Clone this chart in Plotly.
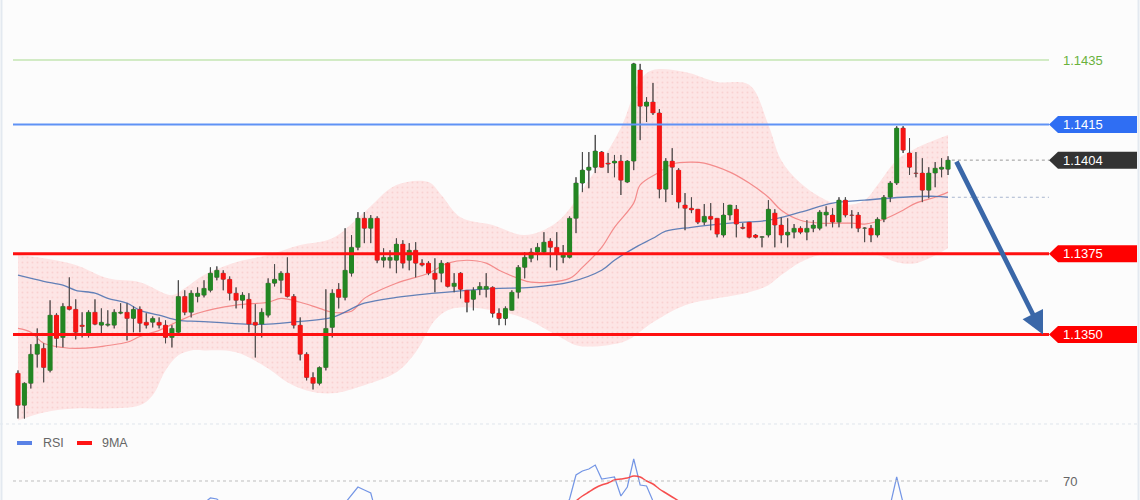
import plotly.graph_objects as go

# ---------------- data ----------------
open_ = [
    1.13380, 1.13281, 1.13349, 1.13439, 1.13457, 1.13389, 1.13560, 1.13491, 1.13587, 1.13578,
    1.13529, 1.13504, 1.13569, 1.13529, 1.13529, 1.13529, 1.13566, 1.13569, 1.13550, 1.13578,
    1.13538, 1.13538, 1.13538, 1.13529, 1.13491, 1.13507, 1.13618, 1.13569, 1.13618, 1.13622,
    1.13637, 1.13677, 1.13690, 1.13671, 1.13628, 1.13606, 1.13609, 1.13538, 1.13532, 1.13560,
    1.13659, 1.13668, 1.13690, 1.13618, 1.13529, 1.13439, 1.13367, 1.13349, 1.13398, 1.13522,
    1.13640, 1.13615, 1.13690, 1.13770, 1.13860, 1.13829, 1.13860, 1.13730, 1.13730, 1.13730,
    1.13780, 1.13730, 1.13761, 1.13721, 1.13721, 1.13690, 1.13690, 1.13721, 1.13649, 1.13690,
    1.13637, 1.13609, 1.13640, 1.13640, 1.13646, 1.13566, 1.13550, 1.13575, 1.13631, 1.13708,
    1.13736, 1.13755, 1.13755, 1.13789, 1.13770, 1.13739, 1.13739, 1.13860, 1.13969, 1.14009,
    1.14018, 1.14065, 1.14031, 1.14031, 1.14037, 1.13972, 1.14037, 1.14319, 1.14207, 1.14220,
    1.14186, 1.13950, 1.14037, 1.14009, 1.13901, 1.13891, 1.13888, 1.13848, 1.13866, 1.13860,
    1.13808, 1.13870, 1.13888, 1.13832, 1.13848, 1.13808, 1.13801, 1.13808, 1.13876, 1.13839,
    1.13808, 1.13817, 1.13829, 1.13817, 1.13829, 1.13829, 1.13870, 1.13870, 1.13848, 1.13916,
    1.13870, 1.13870, 1.13829, 1.13829, 1.13808, 1.13857, 1.13925, 1.13969, 1.14139, 1.14062,
    1.14000, 1.14000, 1.13947, 1.14000, 1.14012, 1.14012]

high = [
    1.13389, 1.13352, 1.13470, 1.13519, 1.13473, 1.13606, 1.13566, 1.13597, 1.13677, 1.13609,
    1.13569, 1.13575, 1.13609, 1.13581, 1.13575, 1.13578, 1.13597, 1.13597, 1.13587, 1.13587,
    1.13566, 1.13556, 1.13553, 1.13544, 1.13529, 1.13668, 1.13637, 1.13637, 1.13646, 1.13668,
    1.13708, 1.13711, 1.13699, 1.13680, 1.13646, 1.13631, 1.13628, 1.13594, 1.13581, 1.13674,
    1.13718, 1.13696, 1.13739, 1.13625, 1.13553, 1.13445, 1.13383, 1.13401, 1.13640, 1.13640,
    1.13659, 1.13829, 1.13808, 1.13879, 1.13879, 1.13870, 1.13866, 1.13767, 1.13761, 1.13798,
    1.13792, 1.13783, 1.13786, 1.13733, 1.13727, 1.13736, 1.13730, 1.13724, 1.13690, 1.13693,
    1.13637, 1.13646, 1.13662, 1.13690, 1.13649, 1.13581, 1.13587, 1.13637, 1.13715, 1.13755,
    1.13767, 1.13783, 1.13817, 1.13798, 1.13817, 1.13777, 1.13866, 1.13987, 1.14065, 1.14065,
    1.14118, 1.14068, 1.14062, 1.14056, 1.14056, 1.14040, 1.14341, 1.14338, 1.14235, 1.14279,
    1.14198, 1.14046, 1.14077, 1.14015, 1.13938, 1.13925, 1.13888, 1.13904, 1.13907, 1.13860,
    1.13907, 1.13901, 1.13901, 1.13845, 1.13848, 1.13811, 1.13804, 1.13916, 1.13888, 1.13863,
    1.13860, 1.13842, 1.13835, 1.13854, 1.13854, 1.13885, 1.13897, 1.13891, 1.13925, 1.13925,
    1.13885, 1.13879, 1.13832, 1.13839, 1.13863, 1.13932, 1.13975, 1.14145, 1.14145, 1.14108,
    1.14065, 1.14046, 1.14018, 1.14034, 1.14046, 1.14052]

low = [
    1.13240, 1.13240, 1.13333, 1.13398, 1.13352, 1.13383, 1.13460, 1.13460, 1.13575, 1.13485,
    1.13491, 1.13491, 1.13529, 1.13504, 1.13525, 1.13519, 1.13563, 1.13482, 1.13507, 1.13507,
    1.13519, 1.13522, 1.13519, 1.13473, 1.13460, 1.13504, 1.13560, 1.13553, 1.13600, 1.13615,
    1.13631, 1.13668, 1.13637, 1.13606, 1.13581, 1.13581, 1.13507, 1.13429, 1.13491, 1.13553,
    1.13649, 1.13628, 1.13615, 1.13519, 1.13420, 1.13358, 1.13330, 1.13343, 1.13389, 1.13491,
    1.13581, 1.13606, 1.13680, 1.13761, 1.13783, 1.13783, 1.13721, 1.13708, 1.13705, 1.13690,
    1.13705, 1.13699, 1.13677, 1.13711, 1.13684, 1.13631, 1.13662, 1.13646, 1.13631, 1.13612,
    1.13569, 1.13575, 1.13622, 1.13615, 1.13553, 1.13529, 1.13529, 1.13575, 1.13612, 1.13674,
    1.13724, 1.13730, 1.13752, 1.13708, 1.13699, 1.13721, 1.13736, 1.13814, 1.13941, 1.13953,
    1.14000, 1.14018, 1.14000, 1.13987, 1.13932, 1.13969, 1.14009, 1.14102, 1.14158, 1.14180,
    1.13922, 1.13910, 1.13932, 1.13891, 1.13823, 1.13876, 1.13842, 1.13839, 1.13823, 1.13801,
    1.13801, 1.13854, 1.13801, 1.13826, 1.13798, 1.13798, 1.13770, 1.13801, 1.13770, 1.13783,
    1.13770, 1.13798, 1.13811, 1.13792, 1.13817, 1.13823, 1.13835, 1.13832, 1.13832, 1.13863,
    1.13829, 1.13817, 1.13786, 1.13786, 1.13801, 1.13848, 1.13910, 1.13963, 1.14062, 1.13994,
    1.13987, 1.13910, 1.13922, 1.13956, 1.13987, 1.13994]

close = [
    1.13281, 1.13349, 1.13439, 1.13470, 1.13398, 1.13560, 1.13488, 1.13587, 1.13578, 1.13507,
    1.13525, 1.13569, 1.13532, 1.13538, 1.13532, 1.13569, 1.13569, 1.13550, 1.13578, 1.13535,
    1.13529, 1.13550, 1.13529, 1.13491, 1.13519, 1.13618, 1.13569, 1.13628, 1.13628, 1.13643,
    1.13690, 1.13699, 1.13671, 1.13628, 1.13606, 1.13622, 1.13532, 1.13529, 1.13569, 1.13659,
    1.13671, 1.13690, 1.13618, 1.13529, 1.13439, 1.13367, 1.13349, 1.13398, 1.13519, 1.13628,
    1.13615, 1.13699, 1.13770, 1.13860, 1.13829, 1.13860, 1.13730, 1.13739, 1.13739, 1.13780,
    1.13721, 1.13761, 1.13721, 1.13715, 1.13690, 1.13671, 1.13721, 1.13649, 1.13659, 1.13640,
    1.13600, 1.13637, 1.13649, 1.13649, 1.13566, 1.13550, 1.13581, 1.13631, 1.13708, 1.13739,
    1.13755, 1.13770, 1.13786, 1.13770, 1.13752, 1.13746, 1.13860, 1.13969, 1.14009, 1.14018,
    1.14068, 1.14018, 1.14028, 1.14037, 1.13978, 1.14037, 1.14338, 1.14207, 1.14220, 1.14186,
    1.13950, 1.14037, 1.14018, 1.13910, 1.13891, 1.13886, 1.13848, 1.13866, 1.13857, 1.13811,
    1.13870, 1.13901, 1.13842, 1.13829, 1.13801, 1.13801, 1.13803, 1.13888, 1.13839, 1.13808,
    1.13817, 1.13829, 1.13817, 1.13829, 1.13839, 1.13879, 1.13879, 1.13848, 1.13916, 1.13870,
    1.13869, 1.13829, 1.13830, 1.13808, 1.13857, 1.13925, 1.13969, 1.14139, 1.14071, 1.14018,
    1.13999, 1.13947, 1.14000, 1.14015, 1.14018, 1.14040]

# Bollinger envelope, middle (red) and long (blue) moving averages, read at sample candles
upper_idx = [1, 5, 10, 15, 20, 25, 27, 30, 35, 40, 45, 50, 55, 60, 65, 67, 70, 75, 80, 85,
             90, 95, 98, 100, 105, 110, 115, 118, 120, 123, 127, 130, 133, 135, 138, 141, 146]
upper_val = [1.13746, 1.13736, 1.13715, 1.13674, 1.13662, 1.13622, 1.13643, 1.13684, 1.13724, 1.13746,
             1.13777, 1.13798, 1.13879, 1.13963, 1.13972, 1.13932, 1.13863, 1.13839, 1.13808, 1.13848,
             1.13978, 1.14140, 1.14288, 1.14319, 1.14313, 1.14282, 1.14273, 1.14149, 1.14040, 1.13969,
             1.13916, 1.13901, 1.13916, 1.13963, 1.14040, 1.14077, 1.14118]
lower_idx = [1, 5, 10, 15, 20, 22, 24, 26, 28, 30, 35, 40, 43, 46, 50, 55, 60, 63, 66, 68,
             70, 75, 80, 85, 88, 90, 93, 96, 100, 105, 110, 115, 118, 120, 123, 126, 130, 135, 138, 141, 146]
lower_val = [1.13234, 1.13259, 1.13271, 1.13271, 1.13281, 1.13312, 1.13389, 1.13436, 1.13451, 1.13451,
             1.13445, 1.13395, 1.13352, 1.13327, 1.13318, 1.13343, 1.13383, 1.13445, 1.13544, 1.13575,
             1.13584, 1.13575, 1.13550, 1.13498, 1.13467, 1.13463, 1.13467, 1.13482, 1.13538, 1.13591,
             1.13612, 1.13631, 1.13653, 1.13684, 1.13724, 1.13746, 1.13755, 1.13746, 1.13724, 1.13721,
             1.13767]
red_idx = [1, 3, 5, 8, 10, 13, 15, 18, 20, 23, 26, 29, 35, 40, 42, 45, 48, 50, 53, 55,
           60, 65, 68, 71, 74, 76, 79, 81, 87, 89, 92, 94, 97, 98, 101, 103, 106, 108, 112, 115,
           118, 120, 123, 126, 131, 133, 136, 139, 141, 144, 146]
red_val = [1.13519, 1.13507, 1.13473, 1.13460, 1.13457, 1.13460, 1.13466, 1.13476, 1.13494, 1.13513,
           1.13541, 1.13566, 1.13591, 1.13600, 1.13612, 1.13600, 1.13581, 1.13569, 1.13572, 1.13612,
           1.13659, 1.13690, 1.13721, 1.13730, 1.13721, 1.13699, 1.13674, 1.13662, 1.13674, 1.13708,
           1.13770, 1.13832, 1.13907, 1.13963, 1.14003, 1.14028, 1.14034, 1.14031, 1.14003, 1.13969,
           1.13925, 1.13885, 1.13854, 1.13845, 1.13845, 1.13842, 1.13857, 1.13885, 1.13907, 1.13925,
           1.13941]
blue_idx = [1, 5, 8, 10, 13, 15, 18, 20, 23, 26, 29, 32, 37, 40, 45, 50, 55, 60, 66, 71,
            76, 81, 87, 92, 94, 97, 100, 102, 106, 112, 118, 123, 128, 133, 139, 144, 146]
blue_val = [1.13684, 1.13665, 1.13653, 1.13637, 1.13628, 1.13612, 1.13597, 1.13575, 1.13560, 1.13544,
            1.13541, 1.13538, 1.13532, 1.13532, 1.13541, 1.13553, 1.13597, 1.13615, 1.13628, 1.13637,
            1.13643, 1.13646, 1.13662, 1.13699, 1.13730, 1.13767, 1.13798, 1.13820, 1.13832, 1.13845,
            1.13854, 1.13879, 1.13907, 1.13916, 1.13925, 1.13928, 1.13925]

# RSI panel (only the top of it is visible)
rsi = [
    30, 33, 40, 45, 42, 52, 48, 55, 54, 49,
    50, 54, 51, 52, 51, 54, 54, 52, 55, 51,
    50, 52, 50, 47, 50, 58, 53, 58, 58, 59,
    61.5, 61, 58, 53, 51, 53, 46, 46, 50, 58,
    57, 58, 50, 44, 38, 34, 33, 38, 50, 57,
    55, 59, 63, 67, 65.5, 64, 52, 53, 53, 56,
    52, 55, 51, 51, 49, 48, 52, 47, 48, 46,
    44, 47, 48, 48, 42, 41, 44, 49, 54, 56,
    57, 58, 59, 57, 56, 55, 61, 73, 75, 76,
    78, 71, 71.5, 72, 62.5, 67, 81, 68, 67.5, 60,
    45, 52, 50, 44, 43, 43, 41, 44, 43, 40,
    45, 48, 43, 43, 41, 41, 41, 47, 44, 42,
    43, 44, 43, 44, 45, 49, 49, 46, 52, 47,
    47, 44, 44, 43, 48, 53, 58, 72, 59, 55,
    55, 51, 55, 56, 56, 58]
rsi_ma = [
    40, 40, 41, 42, 42, 43, 44, 45, 46, 47,
    48, 49, 50, 51, 52, 52, 52, 52, 52, 52,
    52, 52, 52, 52, 51, 51, 51, 52, 53, 54,
    55, 56, 56, 56, 56, 56, 55, 54, 53, 52,
    52, 52, 51, 50, 49, 47, 45, 44, 44, 44,
    45, 46, 48, 51, 54, 56, 57, 57, 57, 57,
    57, 56, 55, 54, 52, 51, 50, 50, 49, 48,
    48, 47, 47, 47, 46, 46, 45, 45, 46, 47,
    48, 49, 50, 51, 53, 55, 57, 60, 62.5, 64.5,
    66.5, 68, 69, 70.5, 71, 71.5, 72.5, 72, 70, 68.5,
    66, 64, 62, 60, 58, 56, 53, 50, 47, 45,
    44, 44, 44, 43, 43, 43, 43, 43, 43, 43,
    43, 43, 43, 43, 44, 44, 45, 45, 46, 46,
    47, 47, 47, 47, 47, 48, 49, 51, 52, 53,
    54, 55, 56, 56, 57, 57]

levels = [1.1435, 1.1415, 1.1375, 1.1350]
rsi_level = 70
legend_names = ["RSI", "9MA"]

# ---------------- layout constants ----------------
W, H = 1140, 500
FONT = "Liberation Sans, Arial, sans-serif"
GREEN, RED, WICK = "#238623", "#f51414", "#4a4a4a"
n = min(len(open_), len(high), len(low), len(close))
idx = list(range(1, n + 1))
rsi_x = list(range(1, min(len(rsi), len(rsi_ma)) + 1))

FIRST_PX, LAST_PX = 18, 948
STEP = (LAST_PX - FIRST_PX) / (n - 1)
X_MIN = 1 - FIRST_PX / STEP
X_MAX = X_MIN + W / STEP


def px2idx(px):
    return X_MIN + px / STEP


REF_PRICE, REF_PX, PX_PER_UNIT, MAIN_BOTTOM = 1.1435, 60, 32300, 424
Y_TOP = REF_PRICE + REF_PX / PX_PER_UNIT
Y_BOT = REF_PRICE - (MAIN_BOTTOM - REF_PX) / PX_PER_UNIT
RSI_TOP_PX, RSI_70_PX, RSI_PX_PER = 428, 481, 2.0
R_BOT = rsi_level - (H - RSI_70_PX) / RSI_PX_PER
R_TOP = rsi_level + (RSI_70_PX - RSI_TOP_PX) / RSI_PX_PER


def py(px):
    return 1 - px / H


fig = go.Figure()

# Bollinger envelope
fig.add_trace(go.Scatter(x=upper_idx, y=upper_val, mode="lines", line=dict(width=0, shape="spline"),
                         showlegend=False, hoverinfo="skip"))
fig.add_trace(go.Scatter(x=lower_idx, y=lower_val, mode="lines", line=dict(width=0, shape="spline"),
                         fill="tonexty", fillcolor="rgba(255,160,160,0.28)",
                         fillpattern=dict(shape=".", fgcolor="rgba(235,120,120,0.35)",
                                          bgcolor="rgba(255,165,165,0.27)", size=5, solidity=0.12),
                         showlegend=False, hoverinfo="skip"))
fig.add_trace(go.Scatter(x=red_idx, y=red_val, mode="lines",
                         line=dict(color="rgba(240,110,110,0.75)", width=1.2, shape="spline"),
                         showlegend=False, hoverinfo="skip"))
fig.add_trace(go.Scatter(x=blue_idx, y=blue_val, mode="lines",
                         line=dict(color="rgba(70,110,175,0.85)", width=1.3, shape="spline"),
                         showlegend=False, hoverinfo="skip"))

# candlestick (gives doji ticks underneath)
fig.add_trace(go.Candlestick(
    x=idx, open=open_[:n], high=high[:n], low=low[:n], close=close[:n],
    increasing=dict(fillcolor=GREEN, line=dict(color=WICK, width=1)),
    decreasing=dict(fillcolor=RED, line=dict(color=WICK, width=1)),
    whiskerwidth=0, showlegend=False, hoverinfo="skip"))

# wicks and solid bodies redrawn above the envelope fill
wx, wy = [], []
gx, gy, rx, ry = [], [], [], []
for i, o, h, l, c in zip(idx, open_, high, low, close):
    wx += [i, i, None]
    wy += [l, h, None]
    if c >= o:
        gx += [i, i, None]
        gy += [o, c, None]
    else:
        rx += [i, i, None]
        ry += [o, c, None]
fig.add_trace(go.Scatter(x=wx, y=wy, mode="lines", line=dict(color=WICK, width=1),
                         showlegend=False, hoverinfo="skip"))
fig.add_trace(go.Scatter(x=gx, y=gy, mode="lines", line=dict(color=GREEN, width=5),
                         showlegend=False, hoverinfo="skip"))
fig.add_trace(go.Scatter(x=rx, y=ry, mode="lines", line=dict(color=RED, width=5),
                         showlegend=False, hoverinfo="skip"))

# RSI panel
fig.add_trace(go.Scatter(x=rsi_x, y=rsi, mode="lines", yaxis="y2",
                         line=dict(color="rgba(90,130,225,0.85)", width=1.2),
                         showlegend=False, hoverinfo="skip"))
fig.add_trace(go.Scatter(x=rsi_x, y=rsi_ma, mode="lines", yaxis="y2",
                         line=dict(color="rgba(245,60,60,0.9)", width=1.5, shape="spline"),
                         showlegend=False, hoverinfo="skip"))

shapes = []
annotations = []

# level lines
line_styles = [("#a8d98e", 1.2), ("#5f92f5", 2), ("#ff1010", 3), ("#ff1010", 3)]
for lv, (col, wd) in zip(levels, line_styles):
    shapes.append(dict(type="line", xref="paper", yref="y", x0=13 / W, x1=1049 / W, y0=lv, y1=lv,
                       line=dict(color=col, width=wd), layer="above"))

# dotted guides: last price and long MA
last = close[n - 1]
shapes.append(dict(type="line", xref="x", yref="y", x0=n + 0.6, x1=px2idx(1049), y0=last, y1=last,
                   line=dict(color="#9a9a9a", width=1, dash="dot")))
shapes.append(dict(type="line", xref="x", yref="y", x0=n + 0.6, x1=px2idx(1049),
                   y0=blue_val[-1], y1=blue_val[-1],
                   line=dict(color="#a9b7cf", width=1, dash="dot")))


def tag(level, color):
    shapes.append(dict(type="path", xref="paper", yref="y", xsizemode="pixel", ysizemode="pixel",
                       xanchor=1, yanchor=level,
                       path=f"M {1049 - W},0 L {1058 - W},8.5 L {1137 - W},8.5 "
                            f"L {1137 - W},-8.5 L {1058 - W},-8.5 Z",
                       fillcolor=color, line=dict(width=0), layer="above"))
    annotations.append(dict(x=1061 / W, xref="paper", xanchor="left", y=level, yref="y",
                            yanchor="middle", text=f"{level:.4f}", showarrow=False,
                            font=dict(color="white", size=13, family=FONT)))


annotations.append(dict(x=1061 / W, xref="paper", xanchor="left", y=levels[0], yref="y",
                        yanchor="middle", text=f"{levels[0]:.4f}", showarrow=False,
                        font=dict(color="#6ab23c", size=13, family=FONT)))
tag(levels[1], "#2f6ef3")
tag(last, "#333333")
tag(levels[2], "#ff0000")
tag(levels[3], "#ff0000")

# forecast arrow from last close down to the lower level
annotations.append(dict(x=px2idx(1043), y=levels[3], xref="x", yref="y",
                        ax=n + 1.2, ay=last, axref="x", ayref="y", text="", showarrow=True,
                        arrowhead=2, arrowsize=0.95, arrowwidth=4.8, arrowcolor="#3a67a8",
                        standoff=0, startstandoff=0))

# panel separator & borders
shapes.append(dict(type="line", xref="paper", yref="paper", x0=0, x1=1, y0=py(424), y1=py(424),
                   line=dict(color="#dfe5ec", width=1, dash="dot")))
shapes.append(dict(type="line", xref="paper", yref="paper", x0=1.5 / W, x1=1.5 / W, y0=0, y1=1,
                   line=dict(color="#e3e9f0", width=2)))
shapes.append(dict(type="line", xref="paper", yref="paper", x0=1138.5 / W, x1=1138.5 / W, y0=0, y1=1,
                   line=dict(color="#e3e9f0", width=2)))

# RSI 70 level
shapes.append(dict(type="line", xref="paper", yref="y2", x0=13 / W, x1=1049 / W,
                   y0=rsi_level, y1=rsi_level, line=dict(color="#bdbdbd", width=1, dash="dot")))
annotations.append(dict(x=1061 / W, xref="paper", xanchor="left", y=rsi_level, yref="y2",
                        yanchor="middle", text=str(rsi_level), showarrow=False,
                        font=dict(color="#666666", size=13, family=FONT)))

# RSI legend
for (x0, x1, tx), name, col in zip([(17, 32, 41), (77, 92, 100)], legend_names, ["#5a82e6", "#ff1414"]):
    shapes.append(dict(type="rect", xref="paper", yref="paper", x0=x0 / W, x1=x1 / W,
                       y0=py(445), y1=py(441), fillcolor=col, line=dict(width=0)))
    annotations.append(dict(x=tx / W, xref="paper", xanchor="left", y=py(443), yref="paper",
                            yanchor="middle", text=name, showarrow=False,
                            font=dict(color="#666666", size=12.5, family=FONT)))

fig.update_layout(
    width=W, height=H, margin=dict(l=0, r=0, t=0, b=0),
    paper_bgcolor="#fcfcfc", plot_bgcolor="#fcfcfc",
    boxgap=0.3,
    xaxis=dict(range=[X_MIN, X_MAX], visible=False, rangeslider=dict(visible=False), fixedrange=True),
    yaxis=dict(range=[Y_BOT, Y_TOP], domain=[py(MAIN_BOTTOM), 1], visible=False, fixedrange=True),
    yaxis2=dict(range=[R_BOT, R_TOP], domain=[0, py(RSI_TOP_PX)], visible=False, fixedrange=True,
                anchor="x"),
    shapes=shapes, annotations=annotations,
    font=dict(family=FONT), showlegend=False,
)

fig.write_html("out.html", config={"displayModeBar": False})
